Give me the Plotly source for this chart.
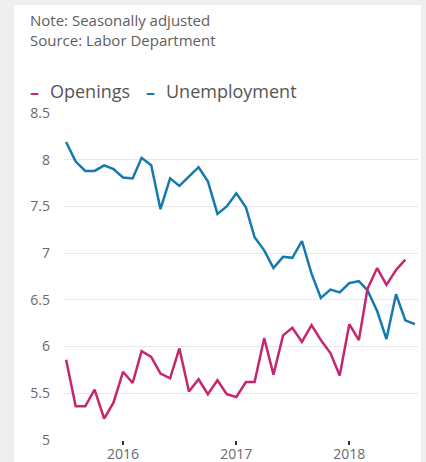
import plotly.graph_objects as go
import pandas as pd

# Monthly data, July 2015 onward (millions)
unemp_start = "2015-07-01"
openings_start = "2015-07-01"

unemployment = [8.19, 7.98, 7.88, 7.88, 7.94, 7.90, 7.81, 7.80, 8.02, 7.94,
                7.47, 7.80, 7.72, 7.82, 7.92, 7.77, 7.42, 7.50, 7.64, 7.49,
                7.17, 7.03, 6.84, 6.96, 6.95, 7.13, 6.78, 6.52, 6.61, 6.58,
                6.68, 6.70, 6.60, 6.38, 6.08, 6.56, 6.28, 6.24]

openings = [5.86, 5.36, 5.36, 5.54, 5.23, 5.40, 5.73, 5.61, 5.95, 5.89,
            5.71, 5.66, 5.98, 5.52, 5.65, 5.49, 5.64, 5.49, 5.46, 5.62,
            5.62, 6.09, 5.70, 6.12, 6.20, 6.05, 6.23, 6.07, 5.93, 5.69,
            6.24, 6.07, 6.62, 6.84, 6.66, 6.82, 6.93]

y_ticks = [5, 5.5, 6, 6.5, 7, 7.5, 8, 8.5]
y_tick_labels = ["5", "5.5", "6", "6.5", "7", "7.5", "8", "8.5"]
x_ticks = ["2016-01-01", "2017-01-01", "2018-01-01"]
x_tick_labels = ["2016", "2017", "2018"]

note_text = "Note: Seasonally adjusted"
source_text = "Source: Labor Department"

unemp_dates = pd.date_range(unemp_start, periods=len(unemployment), freq="MS")
open_dates = pd.date_range(openings_start, periods=len(openings), freq="MS")

PINK = "#c4276f"
BLUE = "#1479b0"
FONT = "Open Sans"

fig = go.Figure()
fig.add_trace(go.Scatter(x=unemp_dates, y=unemployment, mode="lines",
                         name="Unemployment", line=dict(color=BLUE, width=2.5)))
fig.add_trace(go.Scatter(x=open_dates, y=openings, mode="lines",
                         name="Openings", line=dict(color=PINK, width=2.5)))

W, H = 426, 462
L, R, T, B = 63, 418, 113, 440

def px(x):
    return (x - L) / (R - L)

def py(y):
    return (B - y) / (B - T)

fig.update_layout(
    width=W, height=H,
    margin=dict(l=L, r=W - R, t=T, b=H - B, autoexpand=False),
    paper_bgcolor="#efefef",
    plot_bgcolor="white",
    showlegend=False,
    font=dict(family=FONT, color="#666666", size=14),
    xaxis=dict(
        range=["2015-06-21", "2018-08-11"],
        tickvals=x_ticks, ticktext=x_tick_labels,
        ticks="outside", ticklen=4, tickwidth=1.5, tickcolor="#333333",
        showgrid=False, zeroline=False, showline=False, automargin=False,
        ticklabelstandoff=-3,
        tickfont=dict(size=14, color="#6a6a6a"),
    ),
    yaxis=dict(
        range=[5, 8.5],
        tickvals=y_ticks, ticktext=y_tick_labels,
        showgrid=True, gridcolor="#e8e8e8", gridwidth=1,
        zeroline=False, showline=False, automargin=False,
        ticklabelstandoff=12,
        tickfont=dict(size=14, color="#6a6a6a"),
    ),
    shapes=[dict(type="rect", xref="paper", yref="paper", layer="below",
                 x0=px(14), x1=px(421), y0=py(5), y1=py(470),
                 fillcolor="white", line=dict(width=0))],
)

ann = [
    dict(text=note_text, x=px(28), y=py(20), size=15, color="#5e5e5e"),
    dict(text=source_text, x=px(28), y=py(40), size=15, color="#5e5e5e"),
    dict(text="<b>–</b>", x=px(28), y=py(92), size=18, color=PINK),
    dict(text="Openings", x=px(48), y=py(91), size=18, color="#555555"),
    dict(text="<b>–</b>", x=px(144), y=py(92), size=18, color=BLUE),
    dict(text="Unemployment", x=px(164), y=py(91), size=18, color="#555555"),
]
for a in ann:
    fig.add_annotation(text=a["text"], x=a["x"], y=a["y"], xref="paper", yref="paper",
                       xanchor="left", yanchor="middle", showarrow=False,
                       font=dict(family=FONT, size=a["size"], color=a["color"]))

fig.write_html("out.html", config={"displayModeBar": False},
               post_script="document.body.style.margin='0';document.body.style.overflow='hidden';")
